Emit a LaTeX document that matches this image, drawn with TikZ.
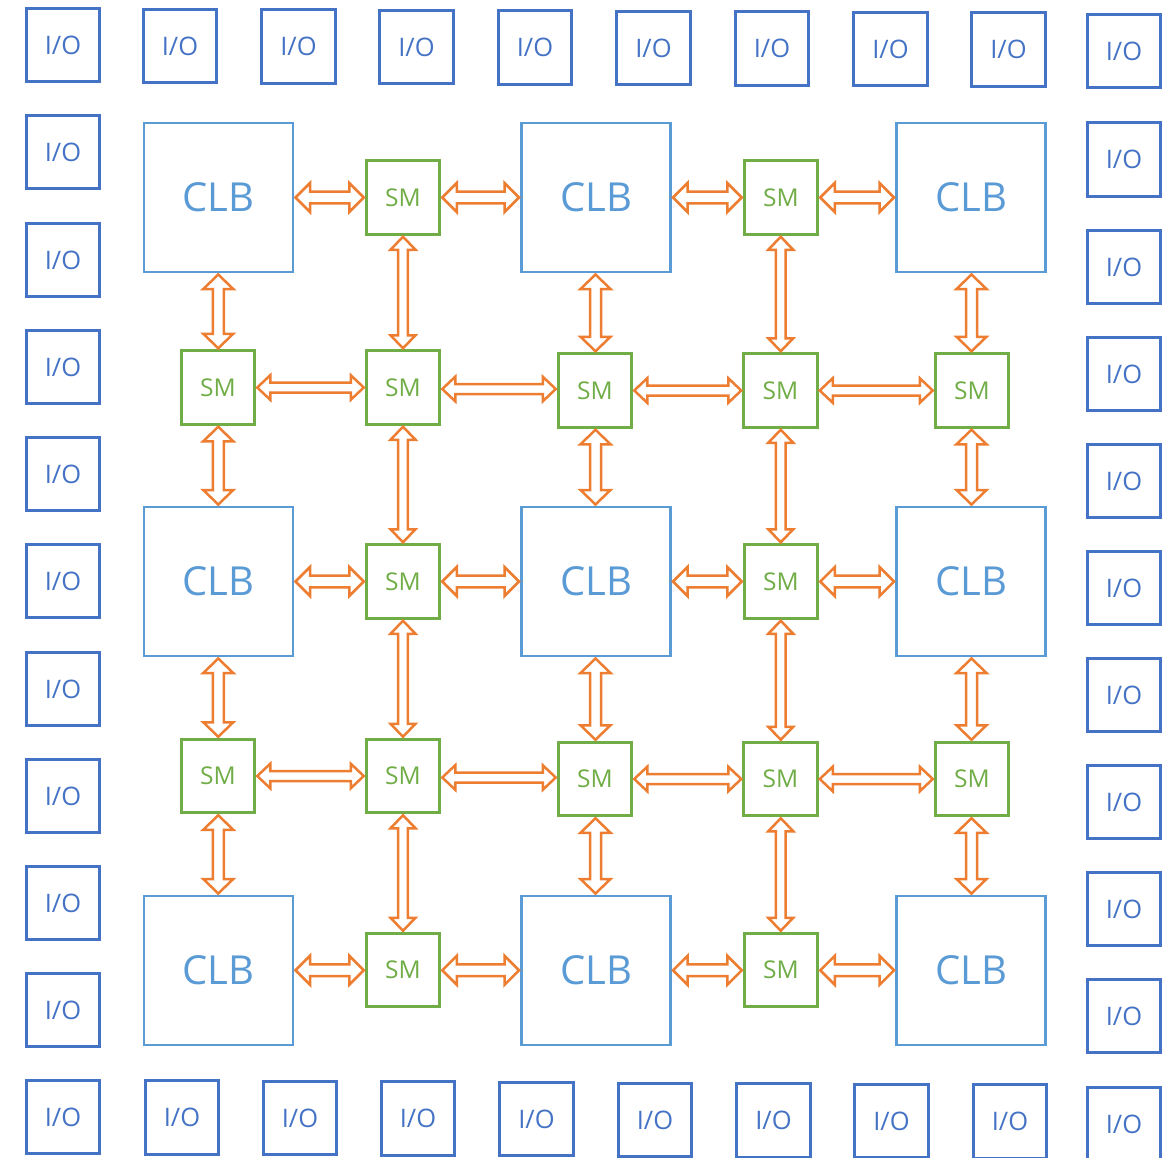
\documentclass[tikz,border=0pt]{standalone}
\usepackage{fontspec}
\setmainfont{Open Sans}
\usetikzlibrary{calc}
\definecolor{iob}{HTML}{4472C4}
\definecolor{clbb}{HTML}{5B9BD5}
\definecolor{smg}{HTML}{70AD47}
\definecolor{arro}{HTML}{ED7D31}
\tikzset{
  iobox/.style={draw=iob, line width=3pt, minimum size=73.5pt, inner sep=0pt, outer sep=0pt, text=iob, text depth=0pt, font=\fontsize{25.5}{25.5}\selectfont},
  clbbox/.style={draw=clbb, line width=2.5pt, minimum size=149pt, inner sep=0pt, outer sep=0pt, text=clbb, font=\fontsize{40}{40}\selectfont},
  smbox/.style={draw=smg, line width=3pt, minimum size=73.5pt, inner sep=0pt, outer sep=0pt, text=smg, font=\fontsize{24.5}{24.5}\selectfont},
  conn/.style={draw=arro, fill=white, line width=2.5pt, line join=miter}
}
% horizontal hollow double arrow: #1 left anchor, #2 right anchor, #3 head length, #4 head half-width, #5 shaft half-width
\newcommand\dblH[5]{\draw[conn] let \p1=(#1), \p2=(#2), \n1={(\y1+\y2)/2}, \n2={\x1+2.5pt}, \n3={\x2-2.5pt} in
  (\n2,\n1) -- (\n2+#3,\n1+#4) -- (\n2+#3,\n1+#5) -- (\n3-#3,\n1+#5) -- (\n3-#3,\n1+#4) -- (\n3,\n1)
  -- (\n3-#3,\n1-#4) -- (\n3-#3,\n1-#5) -- (\n2+#3,\n1-#5) -- (\n2+#3,\n1-#4) -- cycle;}
% vertical hollow double arrow: #1 upper anchor, #2 lower anchor
\newcommand\dblV[5]{\draw[conn] let \p1=(#1), \p2=(#2), \n1={(\x1+\x2)/2}, \n2={\y1-2.5pt}, \n3={\y2+2.5pt} in
  (\n1,\n2) -- (\n1+#4,\n2-#3) -- (\n1+#5,\n2-#3) -- (\n1+#5,\n3+#3) -- (\n1+#4,\n3+#3) -- (\n1,\n3)
  -- (\n1-#4,\n3+#3) -- (\n1-#5,\n3+#3) -- (\n1-#5,\n2-#3) -- (\n1-#4,\n2-#3) -- cycle;}
\newcommand\shH{}\renewcommand\shH[2]{\dblH{#1}{#2}{14.5}{14.5}{5.8}}
\newcommand\shV{}\renewcommand\shV[2]{\dblV{#1}{#2}{14.5}{15}{5.5}}
\newcommand\lgH{}\renewcommand\lgH[2]{\dblH{#1}{#2}{13}{12.3}{5}}
\newcommand\lgV{}\renewcommand\lgV[2]{\dblV{#1}{#2}{13}{12.5}{4.8}}
\begin{document}
\begin{tikzpicture}[x=1pt,y=1pt]
\useasboundingbox (0,0) rectangle (1173,-1157);
% I/O ring
\foreach \px/\py [count=\i] in {63/45,180/46,298.5/46.5,416.5/47,535/47.5,653.5/48,772/48.5,890.5/49,1008.5/49.5,1124/51}
  \node[iobox] (t\i) at (\px,-\py) {I/O};
\foreach \px/\py [count=\i] in {63/1117,182/1117.5,300/1118,418/1118.5,536.5/1119,655/1120,773.5/1120.5,891.5/1121,1010/1121.5,1124/1124}
  \node[iobox] (b\i) at (\px,-\py) {I/O};
\foreach \py [count=\i] in {152,260,367,474,581,689,796,903,1010}
  \node[iobox] (l\i) at (63,-\py) {I/O};
\foreach \py [count=\i] in {159.5,267,374,481,588,695,802,909,1016}
  \node[iobox] (r\i) at (1124,-\py) {I/O};
% CLBs
\node[clbbox] (c1) at (218.5,-197.5) {CLB};
\node[clbbox] (c2) at (596,-197.5) {CLB};
\node[clbbox] (c3) at (971,-197.5) {CLB};
\node[clbbox] (c4) at (218.5,-581.5) {CLB};
\node[clbbox] (c5) at (596,-581.5) {CLB};
\node[clbbox] (c6) at (971,-581.5) {CLB};
\node[clbbox] (c7) at (218.5,-970.5) {CLB};
\node[clbbox] (c8) at (596,-970.5) {CLB};
\node[clbbox] (c9) at (971,-970.5) {CLB};
% SMs
\node[smbox] (a1) at (403,-197.5) {SM};
\node[smbox] (a2) at (781,-197.5) {SM};
\node[smbox] (s1) at (218,-387.5) {SM};
\node[smbox] (s2) at (403,-387.5) {SM};
\node[smbox] (s3) at (595,-390.5) {SM};
\node[smbox] (s4) at (780.5,-390.5) {SM};
\node[smbox] (s5) at (972,-390.5) {SM};
\node[smbox] (m1) at (403,-581.5) {SM};
\node[smbox] (m2) at (781,-581.5) {SM};
\node[smbox] (d1) at (218,-776) {SM};
\node[smbox] (d2) at (403,-776) {SM};
\node[smbox] (d3) at (595,-779) {SM};
\node[smbox] (d4) at (780.5,-779) {SM};
\node[smbox] (d5) at (972,-779) {SM};
\node[smbox] (e1) at (403,-970) {SM};
\node[smbox] (e2) at (781,-970) {SM};
% row A
\shH{c1.east}{a1.west} \shH{a1.east}{c2.west} \shH{c2.east}{a2.west} \shH{a2.east}{c3.west}
% A to B
\shV{c1.south}{s1.north} \lgV{a1.south}{s2.north} \shV{c2.south}{s3.north} \lgV{a2.south}{s4.north} \shV{c3.south}{s5.north}
% row B
\lgH{s1.east}{s2.west} \lgH{s2.east}{s3.west} \lgH{s3.east}{s4.west} \lgH{s4.east}{s5.west}
% B to C
\shV{s1.south}{c4.north} \lgV{s2.south}{m1.north} \shV{s3.south}{c5.north} \lgV{s4.south}{m2.north} \shV{s5.south}{c6.north}
% row C
\shH{c4.east}{m1.west} \shH{m1.east}{c5.west} \shH{c5.east}{m2.west} \shH{m2.east}{c6.west}
% C to D
\shV{c4.south}{d1.north} \lgV{m1.south}{d2.north} \shV{c5.south}{d3.north} \lgV{m2.south}{d4.north} \shV{c6.south}{d5.north}
% row D
\lgH{d1.east}{d2.west} \lgH{d2.east}{d3.west} \lgH{d3.east}{d4.west} \lgH{d4.east}{d5.west}
% D to E
\shV{d1.south}{c7.north} \lgV{d2.south}{e1.north} \shV{d3.south}{c8.north} \lgV{d4.south}{e2.north} \shV{d5.south}{c9.north}
% row E
\shH{c7.east}{e1.west} \shH{e1.east}{c8.west} \shH{c8.east}{e2.west} \shH{e2.east}{c9.west}
\end{tikzpicture}
\end{document}
